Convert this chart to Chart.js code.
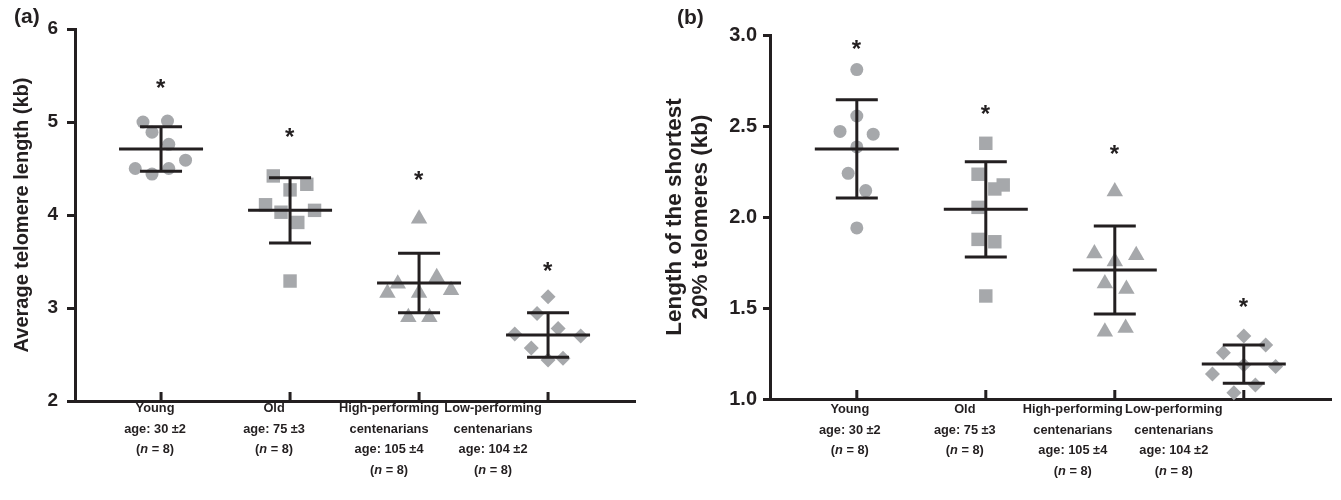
<!DOCTYPE html>
<html>
<head>
<meta charset="utf-8">
<title>Telomere length by age group</title>
<script src="https://cdn.jsdelivr.net/npm/chart.js@4.4.1/dist/chart.umd.min.js"></script>
<style>
  html, body { margin: 0; padding: 0; background: #fff; }
  #wrap { position: relative; width: 1341px; height: 500px; }
  #chart-a { position: absolute; left: 0; top: 0; }
  #chart-b { position: absolute; left: 660px; top: 0; }
</style>
</head>
<body>
<div id="wrap">
  <canvas id="chart-a" width="660" height="500"></canvas>
  <canvas id="chart-b" width="681" height="500"></canvas>
</div>
<script>
// Etiquetas de los grupos (eje x), "_n_" = n en cursiva
const etiquetasGrupos = [
    ['Young', 'age: 30 \u00b12', '(_n_ = 8)'],
    ['Old', 'age: 75 \u00b13', '(_n_ = 8)'],
    ['High-performing', 'centenarians', 'age: 105 \u00b14', '(_n_ = 8)'],
    ['Low-performing', 'centenarians', 'age: 104 \u00b12', '(_n_ = 8)']
];

// (a) Longitud media de los telómeros (kb)
const youngA = [5.00, 5.01, 4.89, 4.76, 4.59, 4.50, 4.44, 4.50];
const oldA   = [4.42, 4.27, 4.33, 4.11, 4.03, 4.05, 3.92, 3.29];
const highA  = [3.96, 3.26, 3.16, 3.33, 3.16, 3.19, 2.90, 2.90];
const lowA   = [3.12, 2.94, 2.78, 2.72, 2.70, 2.57, 2.44, 2.46];
const dispersionYoungA = [-0.14, 0.05, -0.07, 0.06, 0.19, -0.20, -0.07, 0.06];
const dispersionOldA   = [-0.13, 0.00, 0.13, -0.19, -0.07, 0.19, 0.06, 0.00];
const dispersionHighA  = [0.00, -0.165, -0.245, 0.137, 0.00, 0.248, -0.083, 0.08];
const dispersionLowA   = [0.00, -0.085, 0.078, -0.258, 0.253, -0.13, 0.00, 0.116];
const mediaA = [4.71, 4.05, 3.27, 2.71];
const sdA = [0.24, 0.35, 0.32, 0.24];
const asteriscoA = [5.41, 4.89, 4.42, 3.45];
const ticksA = [2, 3, 4, 5, 6];

// (b) Longitud del 20% de telómeros más cortos (kb)
const youngB = [2.81, 2.555, 2.47, 2.455, 2.385, 2.24, 2.145, 1.94];
const oldB   = [2.405, 2.235, 2.176, 2.154, 2.053, 1.877, 1.864, 1.566];
const highB  = [2.14, 1.80, 1.79, 1.755, 1.635, 1.605, 1.37, 1.39];
const lowB   = [1.346, 1.297, 1.254, 1.187, 1.178, 1.137, 1.077, 1.035];
const dispersionYoungB = [0.00, 0.00, -0.13, 0.127, 0.00, -0.067, 0.069, 0.00];
const dispersionOldB   = [0.00, -0.06, 0.135, 0.07, -0.06, -0.06, 0.07, 0.00];
const dispersionHighB  = [0.00, -0.158, 0.166, 0.00, -0.077, 0.09, -0.077, 0.084];
const dispersionLowB   = [0.00, 0.17, -0.158, 0.00, 0.247, -0.243, 0.09, -0.077];
const mediaB = [2.374, 2.042, 1.709, 1.192];
const sdB = [0.27, 0.262, 0.242, 0.105];
const asteriscoB = [2.95, 2.59, 2.37, 1.53];
const ticksB = [1.0, 1.5, 2.0, 2.5, 3.0];

const COLOR_TEXTO = '#231f20';
const COLOR_PUNTO = '#a6a8ab';
const FUENTE = "'Liberation Sans', Arial, Helvetica, sans-serif";

Chart.defaults.font.family = FUENTE;
Chart.defaults.color = COLOR_TEXTO;

/**
 * Construir los puntos de un grupo (x = índice del grupo + dispersión)
 */
function construirPuntos(indice, valores, dispersion) {
    return valores.map((v, k) => ({ x: indice + dispersion[k], y: v }));
}

function datasetGrupo(indice, valores, dispersion, estilo, radio) {
    return {
        data: construirPuntos(indice, valores, dispersion),
        pointStyle: estilo,
        pointRadius: radio,
        pointHoverRadius: radio,
        backgroundColor: COLOR_PUNTO,
        borderWidth: 0,
        clip: false
    };
}

/**
 * Dibujar una línea de texto con segmentos en cursiva (marcados con _)
 */
function dibujarLineaMixta(ctx, texto, cx, y, tamano) {
    const partes = texto.split('_');
    const fuentes = partes.map((p, i) => (i % 2 ? 'italic bold ' : 'bold ') + tamano + 'px ' + FUENTE);
    let total = 0;
    const anchos = partes.map((p, i) => {
        ctx.font = fuentes[i];
        const w = ctx.measureText(p).width;
        total += w;
        return w;
    });
    let x = cx - total / 2;
    partes.forEach((p, i) => {
        ctx.font = fuentes[i];
        ctx.fillText(p, x, y);
        x += anchos[i];
    });
}

// Plugin: barras de media ± DE, marcas del eje x, asteriscos y etiquetas
const pluginDecoracion = {
    id: 'decoracion',
    afterDatasetsDraw(chart, args, opts) {
        const ctx = chart.ctx;
        const ex = chart.scales.x;
        const ey = chart.scales.y;
        const abajo = chart.chartArea.bottom;
        ctx.save();
        ctx.strokeStyle = COLOR_TEXTO;
        ctx.lineWidth = 3;
        opts.medias.forEach((m, i) => {
            const cx = ex.getPixelForValue(i);
            const yM = ey.getPixelForValue(m);
            const yT = ey.getPixelForValue(m + opts.sd[i]);
            const yB = ey.getPixelForValue(m - opts.sd[i]);
            ctx.beginPath();
            ctx.moveTo(cx - 42, yM); ctx.lineTo(cx + 42, yM);
            ctx.moveTo(cx, yT); ctx.lineTo(cx, yB);
            ctx.moveTo(cx - 21, yT); ctx.lineTo(cx + 21, yT);
            ctx.moveTo(cx - 21, yB); ctx.lineTo(cx + 21, yB);
            // marca hacia dentro en el eje x
            ctx.moveTo(cx, abajo - 9); ctx.lineTo(cx, abajo);
            ctx.stroke();
        });
        ctx.restore();
    },
    afterDraw(chart, args, opts) {
        const ctx = chart.ctx;
        const ex = chart.scales.x;
        const ey = chart.scales.y;
        ctx.save();
        ctx.fillStyle = COLOR_TEXTO;
        ctx.textAlign = 'left';
        ctx.textBaseline = 'alphabetic';

        // asteriscos
        ctx.font = 'bold 24px ' + FUENTE;
        const med = ctx.measureText('*');
        const dy = (med.actualBoundingBoxAscent - med.actualBoundingBoxDescent) / 2;
        const dx = (med.actualBoundingBoxRight - med.actualBoundingBoxLeft) / 2;
        opts.asteriscos.forEach((v, i) => {
            ctx.fillText('*', ex.getPixelForValue(i) - dx, ey.getPixelForValue(v) + dy);
        });

        // etiquetas de grupo
        etiquetasGrupos.forEach((lineas, i) => {
            const cx = ex.getPixelForValue(i) + opts.desplazamiento[i];
            lineas.forEach((linea, k) => {
                dibujarLineaMixta(ctx, linea, cx, opts.baseEtiquetas + k * 20.7, 12.8);
            });
        });

        // letra del panel
        ctx.font = 'bold 21px ' + FUENTE;
        ctx.fillText(opts.letra, opts.letraX, opts.letraY);
        ctx.restore();
    }
};

function crearPanel(id, conf) {
    return new Chart(document.getElementById(id), {
        type: 'scatter',
        data: {
            datasets: [
                datasetGrupo(0, conf.grupos[0], conf.dispersion[0], 'circle', 6.5),
                datasetGrupo(1, conf.grupos[1], conf.dispersion[1], 'rect', 9.5),
                datasetGrupo(2, conf.grupos[2], conf.dispersion[2], 'triangle', 9.5),
                datasetGrupo(3, conf.grupos[3], conf.dispersion[3], 'rectRot', 7.5)
            ]
        },
        options: {
            responsive: false,
            animation: false,
            events: [],
            layout: { padding: conf.padding },
            plugins: {
                legend: { display: false },
                tooltip: { enabled: false },
                decoracion: conf.decoracion
            },
            scales: {
                x: {
                    type: 'linear',
                    min: conf.xMin,
                    max: conf.xMax,
                    ticks: { display: false },
                    grid: { display: false },
                    border: { display: true, width: 3, color: COLOR_TEXTO },
                    afterFit: s => { s.height = conf.altoX; }
                },
                y: {
                    min: conf.ticks[0],
                    max: conf.ticks[conf.ticks.length - 1],
                    afterBuildTicks: s => { s.ticks = conf.ticks.map(v => ({ value: v })); },
                    ticks: {
                        padding: conf.tickPadding,
                        color: COLOR_TEXTO,
                        font: { size: conf.tickSize, weight: 'bold' },
                        callback: v => conf.decimales ? Number(v).toFixed(1) : String(v)
                    },
                    grid: {
                        drawOnChartArea: false,
                        tickLength: conf.tickLength,
                        lineWidth: 3,
                        color: COLOR_TEXTO
                    },
                    border: { display: true, width: 3, color: COLOR_TEXTO },
                    title: {
                        display: true,
                        text: conf.titulo,
                        color: COLOR_TEXTO,
                        font: { size: conf.tituloSize, weight: 'bold', lineHeight: conf.tituloLinea },
                        padding: { top: conf.tituloPadding, bottom: 0 }
                    },
                    afterFit: s => { s.width = conf.anchoY; }
                }
            }
        },
        plugins: [pluginDecoracion]
    });
}

crearPanel('chart-a', {
    grupos: [youngA, oldA, highA, lowA],
    dispersion: [dispersionYoungA, dispersionOldA, dispersionHighA, dispersionLowA],
    ticks: ticksA,
    decimales: false,
    xMin: -0.667,
    xMax: 3.674,
    padding: { top: 29, right: 25, left: 0, bottom: 0 },
    altoX: 99,
    anchoY: 75,
    tickPadding: 9,
    tickLength: 8,
    tickSize: 19,
    titulo: 'Average telomere length (kb)',
    tituloSize: 20,
    tituloLinea: 1.2,
    tituloPadding: 10,
    decoracion: {
        medias: mediaA,
        sd: sdA,
        asteriscos: asteriscoA,
        desplazamiento: [-6, -16, -30, -55],
        baseEtiquetas: 412,
        letra: '(a)',
        letraX: 14,
        letraY: 23
    }
});

crearPanel('chart-b', {
    grupos: [youngB, oldB, highB, lowB],
    dispersion: [dispersionYoungB, dispersionOldB, dispersionHighB, dispersionLowB],
    ticks: ticksB,
    decimales: true,
    xMin: -0.673,
    xMax: 3.68,
    padding: { top: 35, right: 2, left: 0, bottom: 0 },
    altoX: 101,
    anchoY: 110,
    tickPadding: 6,
    tickLength: 7,
    tickSize: 20,
    titulo: ['Length of the shortest', '20% telomeres (kb)'],
    tituloSize: 22.5,
    tituloLinea: 1.16,
    tituloPadding: 2,
    decoracion: {
        medias: mediaB,
        sd: sdB,
        asteriscos: asteriscoB,
        desplazamiento: [-7, -21, -42, -70],
        baseEtiquetas: 413,
        letra: '(b)',
        letraX: 17,
        letraY: 24
    }
});
</script>
</body>
</html>
